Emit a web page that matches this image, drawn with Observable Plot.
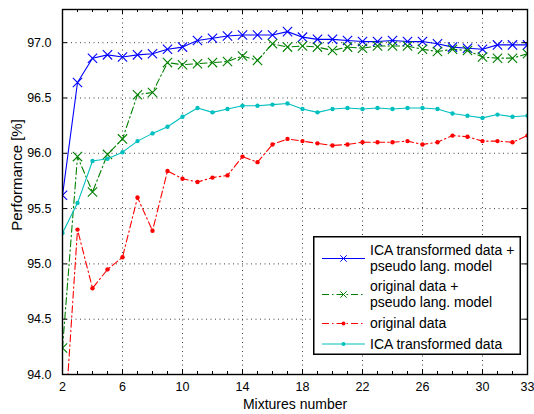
<!DOCTYPE html>
<html><head><meta charset="utf-8">
<script src="https://cdn.jsdelivr.net/npm/d3@7"></script>
<script src="https://cdn.jsdelivr.net/npm/@observablehq/plot@0.6"></script>
<style>
body{margin:0;background:#fff;}
#wrap{position:relative;width:534px;height:414px;font-family:"Liberation Sans",Arial,Helvetica,sans-serif;}
#legend{position:absolute;left:313px;top:236px;}
</style></head><body><div id="wrap"></div>
<script>
const mixtures = [2,3,4,5,6,7,8,9,10,11,12,13,14,15,16,17,18,19,20,21,22,23,24,25,26,27,28,29,30,31,32,33];
const icaPseudo = [95.62,96.64,96.86,96.89,96.87,96.89,96.90,96.94,96.96,97.02,97.04,97.06,97.07,97.07,97.07,97.10,97.05,97.03,97.03,97.02,97.01,97.01,97.02,97.01,97.01,96.99,96.96,96.95,96.94,96.98,96.98,96.98];
const origPseudo = [94.24,95.97,95.65,95.99,96.13,96.53,96.55,96.82,96.80,96.81,96.82,96.83,96.88,96.84,96.99,96.96,96.97,96.96,96.93,96.96,96.95,96.97,96.97,96.97,96.94,96.92,96.94,96.93,96.87,96.86,96.86,96.90];
const original = [93.25,95.31,94.78,94.95,95.06,95.60,95.30,95.84,95.77,95.74,95.78,95.80,95.97,95.92,96.08,96.13,96.11,96.09,96.07,96.08,96.10,96.10,96.10,96.11,96.08,96.10,96.16,96.15,96.11,96.11,96.10,96.16];
const icaOnly = [95.28,95.55,95.93,95.95,96.01,96.11,96.18,96.24,96.33,96.41,96.37,96.40,96.43,96.43,96.44,96.45,96.40,96.37,96.40,96.41,96.40,96.41,96.40,96.41,96.41,96.40,96.36,96.34,96.32,96.35,96.33,96.34];
const seriesNames = [["ICA transformed data +","pseudo lang. model"],["original data +","pseudo lang. model"],["original data"],["ICA transformed data"]];
const xTicks = [2,6,10,14,18,22,26,30,33];
const yTicks = [94.0,94.5,95.0,95.5,96.0,96.5,97.0];
const xLabel = "Mixtures number";
const yLabel = "Performance [%]";

const W = 534, H = 414, mL = 62, mR = 7, mT = 9, mB = 40;
const innerW = W - mL - mR, innerH = H - mT - mB;
const dashDot = "7,3,1.5,3";
const styles = [
  {values: icaPseudo, color: "#0000ff", dash: null, marker: "times"},
  {values: origPseudo, color: "#008000", dash: dashDot, marker: "times"},
  {values: original, color: "#ff0000", dash: dashDot, marker: "dot"},
  {values: icaOnly, color: "#00bfbf", dash: null, marker: "dot"}
];
const marks = [];
// grid
marks.push(Plot.ruleX(xTicks.slice(1, -1), {stroke: "#000", strokeOpacity: 0.75, strokeDasharray: "1,3.5"}));
marks.push(Plot.ruleY(yTicks.slice(1), {stroke: "#000", strokeOpacity: 0.75, strokeDasharray: "1,3.5"}));
// series
for (const s of styles) {
  const data = mixtures.map((m, i) => ({x: m, y: s.values[i]}));
  marks.push(Plot.line(data, {x: "x", y: "y", stroke: s.color, strokeWidth: 1.1, strokeDasharray: s.dash, clip: true}));
  if (s.marker === "times") {
    marks.push(Plot.dot(data, {x: "x", y: "y", symbol: "times", r: 4.3, stroke: s.color, strokeWidth: 1.1, clip: true}));
  } else {
    marks.push(Plot.dot(data, {x: "x", y: "y", r: 2.2, fill: s.color, stroke: "none", clip: true}));
  }
}
// ticks (inward)
marks.push(Plot.tickX(mixtures, {x: d => d, insetTop: innerH - 3, stroke: "#000"}));
marks.push(Plot.tickX(mixtures, {x: d => d, insetBottom: innerH - 3, stroke: "#000"}));
marks.push(Plot.tickX(xTicks, {x: d => d, insetTop: innerH - 5, stroke: "#000"}));
marks.push(Plot.tickX(xTicks, {x: d => d, insetBottom: innerH - 5, stroke: "#000"}));
marks.push(Plot.tickY(yTicks, {y: d => d, insetRight: innerW - 5, stroke: "#000"}));
marks.push(Plot.tickY(yTicks, {y: d => d, insetLeft: innerW - 5, stroke: "#000"}));
marks.push(Plot.frame({stroke: "#000", strokeWidth: 1.4}));
marks.push(Plot.axisX(xTicks, {tickSize: 0, tickPadding: 8, label: null, fontSize: 12.5}));
marks.push(Plot.axisY(yTicks, {tickSize: 0, tickPadding: 11, label: null, tickFormat: d3.format(".1f"), fontSize: 12.5}));
marks.push(Plot.text([xLabel], {frameAnchor: "bottom", lineAnchor: "middle", textAnchor: "middle", dy: 30, fontSize: 14}));
marks.push(Plot.text([yLabel], {frameAnchor: "left", lineAnchor: "middle", textAnchor: "middle", rotate: -90, dx: -45, dy: -17, fontSize: 15}));

const chart = Plot.plot({
  width: W, height: H,
  marginLeft: mL, marginRight: mR, marginTop: mT, marginBottom: mB,
  x: {domain: [2, 33], axis: null},
  y: {domain: [94, 97.3], axis: null},
  style: {fontFamily: "'Liberation Sans', Arial, Helvetica, sans-serif", fontSize: "12.5px", color: "#000", background: "#fff"},
  marks
});
const wrap = document.getElementById("wrap");
wrap.appendChild(chart);

// legend
const lw = 208, lh = 119;
const lg = d3.select(wrap).append("div").attr("id", "legend")
  .append("svg").attr("width", lw).attr("height", lh)
  .style("font-family", "'Liberation Sans', Arial, Helvetica, sans-serif").style("font-size", "14px");
lg.append("rect").attr("x", 0.75).attr("y", 0.75).attr("width", lw - 1.5).attr("height", lh - 1.5)
  .attr("fill", "#fff").attr("stroke", "#000").attr("stroke-width", 1.5);
const entryY = [22.5, 58.5, 87.5, 108];
styles.forEach((s, i) => {
  const g = lg.append("g");
  const cy = entryY[i];
  g.append("line").attr("x1", 9).attr("x2", 52).attr("y1", cy).attr("y2", cy)
    .attr("stroke", s.color).attr("stroke-dasharray", s.dash);
  if (s.marker === "times") {
    const d = 3.2;
    g.append("path").attr("d", `M${30.5-d},${cy-d}L${30.5+d},${cy+d}M${30.5-d},${cy+d}L${30.5+d},${cy-d}`).attr("stroke", s.color);
  } else {
    g.append("circle").attr("cx", 30.5).attr("cy", cy).attr("r", 2).attr("fill", s.color);
  }
  const lines = seriesNames[i];
  lines.forEach((t, k) => {
    g.append("text").attr("x", 57).attr("y", cy + (lines.length === 2 ? (k === 0 ? -8 : 8) : 0)).attr("dy", "0.35em").text(t);
  });
});
</script></body></html>
